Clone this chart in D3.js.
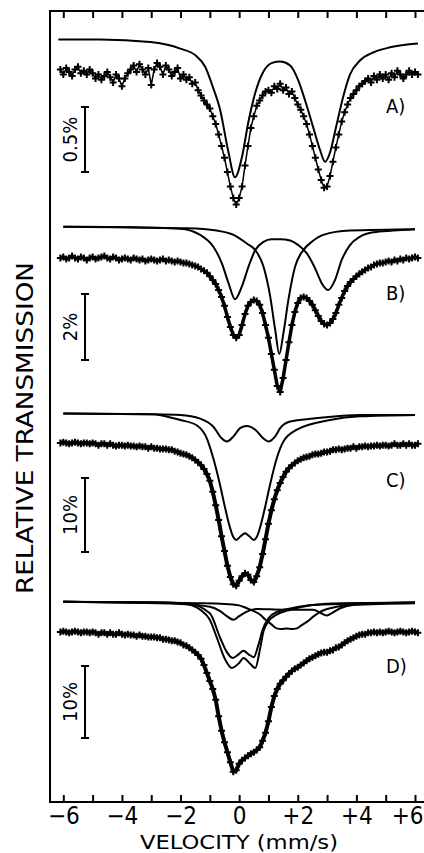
<!DOCTYPE html>
<html lang="en">
<head>
<meta charset="utf-8">
<title>Relative transmission vs velocity</title>
<script src="https://d3js.org/d3.v7.min.js"></script>
<style>
  body { margin: 0; background: #fff; }
  text { font-family: "DejaVu Sans Condensed", "DejaVu Sans", sans-serif; fill: #000; }
</style>
</head>
<body>
<script>
// consts
const w = 424;
const h = 853;

// velocity ticks and labels
const velTicks = [-6, -5, -4, -3, -2, -1, 0, 1, 2, 3, 4, 5, 6];
const panelNames = ["A)", "B)", "C)", "D)"];
const barSizes = [0.5, 2, 10, 10];
const barLabels = ["0.5%", "2%", "10%", "10%"];
const barTops = [99.73, 98.91, 95.27, 95.28];

// measured spectra, relative transmission (%), channels from -6.1 to +6.1 mm/s, step 0.1
const dataA = [
  100.02, 99.98, 100.03, 100.00, 99.97, 100.02, 100.04, 99.99, 100.01, 99.98,
  100.02, 99.99, 99.95, 99.98, 99.94, 99.97, 100.00, 99.96, 99.92, 99.98,
  99.95, 99.89, 99.95, 99.99, 100.02, 100.05, 100.00, 100.06, 100.02, 99.98,
  100.03, 99.90, 100.02, 100.07, 100.04, 99.98, 100.05, 100.02, 99.97, 100.00,
  100.03, 99.95, 99.98, 99.94, 99.96, 99.91, 99.92, 99.86, 99.82, 99.78,
  99.75, 99.72, 99.66, 99.60, 99.52, 99.43, 99.34, 99.23, 99.12, 99.03,
  98.98, 99.03, 99.12, 99.28, 99.43, 99.57, 99.66, 99.74, 99.78, 99.82,
  99.85, 99.86, 99.84, 99.89, 99.87, 99.91, 99.86, 99.88, 99.83, 99.85,
  99.80, 99.75, 99.71, 99.66, 99.60, 99.52, 99.43, 99.34, 99.25, 99.17,
  99.11, 99.12, 99.20, 99.31, 99.42, 99.52, 99.62, 99.69, 99.75, 99.80,
  99.83, 99.86, 99.89, 99.91, 99.93, 99.95, 99.92, 99.97, 99.94, 99.98,
  99.95, 99.98, 99.94, 99.99, 99.96, 100.01, 99.98, 99.95, 99.98, 100.01,
  99.98, 100.00, 99.98
];
const dataB = [
  100.00, 100.03, 99.97, 100.00, 100.06, 100.00, 99.97, 100.03, 100.00, 99.94,
  100.00, 100.03, 99.97, 100.00, 100.03, 100.06, 100.00, 99.97, 100.03, 100.00,
  99.94, 99.97, 100.00, 99.97, 99.94, 100.00, 99.97, 99.94, 99.97, 99.91,
  99.94, 99.97, 99.94, 99.91, 99.94, 99.97, 99.91, 99.94, 99.91, 99.88,
  99.91, 99.88, 99.85, 99.85, 99.82, 99.79, 99.76, 99.73, 99.67, 99.61,
  99.55, 99.45, 99.33, 99.21, 99.03, 98.82, 98.55, 98.21, 97.91, 97.67,
  97.58, 97.67, 97.97, 98.30, 98.55, 98.67, 98.73, 98.70, 98.58, 98.33,
  97.97, 97.58, 97.09, 96.61, 96.12, 95.94, 96.36, 96.91, 97.45, 97.97,
  98.36, 98.64, 98.79, 98.82, 98.79, 98.70, 98.58, 98.42, 98.24, 98.09,
  98.00, 97.97, 98.03, 98.15, 98.33, 98.58, 98.79, 99.00, 99.15, 99.27,
  99.36, 99.45, 99.52, 99.58, 99.64, 99.70, 99.73, 99.79, 99.82, 99.85,
  99.85, 99.88, 99.91, 99.88, 99.94, 99.91, 99.97, 99.94, 100.00, 99.97,
  100.00, 100.03, 100.00
];
const dataC = [
  100.0, 100.1, 100.0, 99.9, 100.0, 100.1, 100.0, 99.9, 100.0, 100.0,
  99.9, 100.0, 99.9, 99.7, 99.9, 99.9, 99.7, 99.9, 99.7, 99.6,
  99.7, 99.7, 99.6, 99.7, 99.6, 99.6, 99.5, 99.6, 99.5, 99.5,
  99.3, 99.5, 99.3, 99.3, 99.2, 99.2, 99.2, 99.1, 99.1, 98.9,
  98.8, 98.6, 98.5, 98.4, 98.2, 98.0, 97.7, 97.4, 97.0, 96.5,
  95.8, 94.9, 93.4, 91.6, 89.6, 87.4, 85.4, 83.4, 81.9, 80.9,
  80.7, 81.4, 82.0, 82.4, 82.2, 81.5, 81.2, 82.0, 83.2, 85.0,
  87.0, 89.1, 90.9, 92.4, 93.6, 94.6, 95.4, 96.1, 96.6, 97.0,
  97.3, 97.6, 97.8, 98.0, 98.1, 98.2, 98.4, 98.5, 98.5, 98.6,
  98.8, 98.8, 98.9, 99.1, 99.1, 99.2, 99.1, 99.2, 99.3, 99.3,
  99.5, 99.3, 99.5, 99.5, 99.6, 99.5, 99.6, 99.6, 99.7, 99.6,
  99.7, 99.7, 99.6, 99.7, 99.9, 99.7, 99.7, 99.9, 99.7, 99.9,
  99.7, 99.7, 99.9
];
const dataD = [
  100.0, 100.1, 100.0, 99.9, 100.0, 100.1, 100.0, 99.9, 100.0, 100.0,
  99.9, 100.0, 99.9, 99.7, 99.9, 99.9, 99.7, 99.9, 99.7, 99.7,
  99.9, 99.7, 99.6, 99.7, 99.6, 99.6, 99.4, 99.6, 99.4, 99.4,
  99.3, 99.3, 99.3, 99.2, 99.2, 99.0, 99.0, 98.9, 98.8, 98.8,
  98.6, 98.5, 98.2, 98.1, 97.8, 97.5, 97.2, 96.8, 96.3, 95.4,
  94.3, 93.2, 92.1, 90.6, 88.3, 86.3, 84.7, 83.3, 81.9, 80.6,
  80.8, 81.7, 82.2, 82.5, 82.8, 83.1, 83.3, 83.6, 84.0, 84.9,
  86.0, 87.6, 89.6, 91.1, 92.1, 92.8, 93.3, 93.8, 94.2, 94.6,
  94.9, 95.1, 95.4, 95.7, 96.0, 96.3, 96.5, 96.7, 96.9, 97.1,
  97.2, 97.2, 97.4, 97.5, 97.8, 97.9, 98.2, 98.5, 98.8, 99.0,
  99.2, 99.4, 99.6, 99.7, 99.7, 99.9, 99.9, 100.0, 99.9, 100.0,
  99.9, 100.0, 100.1, 100.0, 99.9, 100.0, 100.1, 100.0, 99.9, 100.0,
  100.1, 100.0, 99.9
];

// fitted subspectra, [velocity mm/s, relative transmission %], drawn shifted above the data
const fitA = [[-6.17,100.25],[-4.74,100.25],[-3.03,100.23],[-2.01,100.18],[-1.5,100.13],[-1.16,100.04],
  [-0.89,99.88],[-0.65,99.71],[-0.38,99.40],[-0.14,99.19],[0.10,99.35],[0.31,99.61],[0.55,99.84],
  [0.82,100.0],[1.13,100.07],[1.40,100.08],[1.74,100.05],[2.01,99.94],[2.28,99.76],[2.52,99.58],
  [2.76,99.40],[2.93,99.31],[3.10,99.38],[3.31,99.58],[3.55,99.81],[3.78,99.98],[4.13,100.09],
  [4.57,100.15],[5.15,100.19],[6.10,100.22]];
const fitBdoublet = [[-6.0,100.95],[-3.6,100.93],[-2.01,100.89],[-1.33,100.70],[-0.88,100.34],[-0.59,99.84],
  [-0.36,99.23],[-0.14,98.75],[0.09,99.13],[0.32,99.74],[0.55,100.24],[0.83,100.49],[1.11,100.57],
  [1.40,100.57],[1.74,100.53],[2.02,100.39],[2.31,100.14],[2.59,99.69],[2.82,99.23],[3.04,99.03],
  [3.27,99.33],[3.50,99.94],[3.78,100.39],[4.13,100.65],[4.58,100.78],[5.26,100.83],[6.0,100.87]];
const fitBsinglet = [[-6.0,100.95],[-1.78,100.90],[-0.76,100.83],[-0.19,100.70],[0.26,100.44],[0.55,100.24],
  [0.83,99.74],[1.06,98.83],[1.23,97.82],[1.37,97.09],[1.51,97.72],[1.68,98.73],[1.91,99.74],
  [2.19,100.24],[2.48,100.49],[2.87,100.70],[3.78,100.83],[6.0,100.87]];
const fitCsmall = [[-6.0,104.0],[-3.0,103.9],[-2.01,103.8],[-1.33,103.3],[-0.88,102.2],[-0.59,100.6],
  [-0.42,100.2],[-0.19,100.9],[0.03,102.0],[0.26,102.3],[0.55,101.8],[0.83,100.6],[1.0,100.2],
  [1.23,100.9],[1.40,102.0],[1.74,102.9],[2.53,103.3],[4.13,103.8],[6.0,103.8]];
const fitClarge = [[-6.0,104.0],[-3.0,103.9],[-2.0,103.1],[-1.45,102.4],[-1.1,100.6],[-0.88,97.9],
  [-0.65,94.3],[-0.5,91.6],[-0.35,89.1],[-0.2,87.3],[-0.1,86.9],[0.05,87.4],[0.2,87.8],[0.35,87.4],
  [0.5,86.9],[0.6,87.3],[0.75,89.1],[0.9,91.6],[1.05,94.3],[1.28,97.9],[1.51,100.2],[1.97,101.8],
  [3.1,103.1],[4.13,103.6],[6.0,103.8]];
const fitD1 = [[-6.0,104.2],[-2.5,104.1],[-1.8,103.9],[-1.33,103.1],[-1.0,101.7],[-0.76,99.2],[-0.48,96.2],
  [-0.25,95.0],[0.0,95.7],[0.15,96.4],[0.35,95.7],[0.55,95.0],[0.72,97.8],[0.83,100.1],[1.0,101.5],
  [1.28,102.4],[1.74,103.1],[2.5,103.75],[3.5,104.0],[6.0,104.1]];
const fitD2 = [[-6.0,104.2],[-1.8,104.0],[-1.0,102.6],[-0.65,99.2],[-0.42,97.2],[-0.22,96.4],[-0.02,96.9],
  [0.15,97.4],[0.32,96.9],[0.5,96.5],[0.65,98.1],[0.8,100.3],[1.0,101.9],[1.3,102.8],[1.8,103.3],
  [2.5,103.75],[6.0,104.1]];
const fitD3 = [[-6.0,104.2],[-2.0,103.9],[-1.0,103.5],[-0.65,102.9],[-0.42,102.2],[-0.2,101.7],[0.0,102.2],
  [0.3,102.9],[0.6,103.2],[1.5,103.1],[2.53,103.1],[2.8,102.6],[2.98,102.3],[3.15,102.6],[3.45,103.3],
  [3.9,103.75],[6.0,104.0]];
const fitD4 = [[-6.0,104.2],[-1.5,104.0],[-0.5,103.9],[0.0,103.7],[0.26,103.3],[0.5,102.9],[0.72,102.4],
  [0.9,101.7],[1.06,101.2],[1.28,100.5],[1.45,100.4],[1.62,100.5],[1.8,100.4],[1.97,100.5],[2.15,101.0],
  [2.31,101.4],[2.55,102.2],[2.76,102.8],[3.0,103.2],[3.33,103.5],[4.0,103.9],[6.0,104.1]];

// channel velocities
const channels = d3.range(dataA.length).map(i => +(-6.1 + 0.1 * i).toFixed(2));

// layout of the four stacked panels: pixel of 100 % and pixels per 1 %
// (A is a noisy scatter, the others a dense band of points)
const panels = [
  {data: dataA, fits: [fitA], base: 72, ppp: 130, labelY: 113, band: 1.5},
  {data: dataB, fits: [fitBdoublet, fitBsinglet], base: 258, ppp: 33, labelY: 300, band: 3.5},
  {data: dataC, fits: [fitCsmall, fitClarge], base: 443, ppp: 7.4, labelY: 487, band: 4},
  {data: dataD, fits: [fitD1, fitD2, fitD3, fitD4], base: 632, ppp: 7.2, labelY: 673, band: 4}
];

const xScale = d3.scaleLinear().domain([-6, 6]).range([63.3, 415]);
const frameLeft = 50, frameTop = 11, frameBottom = 802;

const svg = d3.select("body").append("svg")
  .attr("width", w)
  .attr("height", h);

// frame
svg.append("path")
  .attr("d", `M${w + 4},${frameTop}H${frameLeft}V${frameBottom}H${w + 4}`)
  .attr("fill", "none")
  .attr("stroke", "#000")
  .attr("stroke-width", 2);

// top axis, ticks only
const topAxis = d3.axisTop(xScale)
  .tickValues(velTicks)
  .tickSizeInner(-7)
  .tickSizeOuter(0)
  .tickFormat("");
const gTop = svg.append("g")
  .attr("transform", `translate(0,${frameTop})`)
  .call(topAxis);

// bottom axis
const fmt = d => d % 2 !== 0 ? "" : d > 0 ? "+" + d : d < 0 ? "\u2212" + Math.abs(d) : "0";
const bottomAxis = d3.axisBottom(xScale)
  .tickValues(velTicks)
  .tickSizeInner(-7)
  .tickSizeOuter(0)
  .tickPadding(5)
  .tickFormat(fmt);
const gBottom = svg.append("g")
  .attr("transform", `translate(0,${frameBottom})`)
  .call(bottomAxis);

[gTop, gBottom].forEach(g => {
  g.select(".domain").remove();
  g.selectAll(".tick line").attr("stroke-width", 2);
  g.selectAll(".tick text")
    .attr("font-size", 24)
    .attr("font-family", '"DejaVu Sans Condensed", "DejaVu Sans", sans-serif');
});
// keep the last label inside the page
gBottom.selectAll(".tick text").filter(d => d === 6)
  .attr("text-anchor", "end")
  .attr("x", w - 415 - 1);

// axis titles
svg.append("text")
  .attr("x", 239)
  .attr("y", 849)
  .attr("text-anchor", "middle")
  .attr("font-size", 20)
  .attr("textLength", 198)
  .attr("lengthAdjust", "spacingAndGlyphs")
  .text("VELOCITY (mm/s)");

svg.append("text")
  .attr("transform", "translate(33,428) rotate(-90)")
  .attr("text-anchor", "middle")
  .attr("font-size", 23)
  .attr("textLength", 332)
  .attr("lengthAdjust", "spacingAndGlyphs")
  .text("RELATIVE TRANSMISSION");

const line = yScale => d3.line()
  .x(d => xScale(d[0]))
  .y(d => yScale(d[1]))
  .curve(d3.curveMonotoneX);

panels.forEach((p, k) => {
  const yScale = d3.scaleLinear()
    .domain([100, 99])
    .range([p.base, p.base + p.ppp]);

  const g = svg.append("g").attr("class", "panel");

  // fitted subspectra
  g.selectAll("path.fit")
    .data(p.fits)
    .enter()
    .append("path")
    .attr("class", "fit")
    .attr("d", line(yScale))
    .attr("fill", "none")
    .attr("stroke", "#000")
    .attr("stroke-width", 2);

  // dense channels merge into a band
  g.append("path")
    .datum(p.data.map((d, i) => [channels[i], d]))
    .attr("d", d3.line().x(d => xScale(d[0])).y(d => yScale(d[1])))
    .attr("fill", "none")
    .attr("stroke", "#000")
    .attr("stroke-width", p.band)
    .attr("stroke-linejoin", "round");

  // data points as crosses
  g.selectAll("path.pt")
    .data(p.data)
    .enter()
    .append("path")
    .attr("class", "pt")
    .attr("transform", (d, i) => `translate(${xScale(channels[i])},${yScale(d)})`)
    .attr("d", "M-3.5,0H3.5M0,-3.5V3.5")
    .attr("stroke", "#000")
    .attr("stroke-width", 2);

  // scale bar
  const y0 = yScale(barTops[k]);
  const y1 = yScale(barTops[k] - barSizes[k]);
  g.append("path")
    .attr("d", `M81,${y0}H89M85,${y0}V${y1}M81,${y1}H89`)
    .attr("fill", "none")
    .attr("stroke", "#000")
    .attr("stroke-width", 2);

  g.append("text")
    .attr("transform", `translate(77,${(y0 + y1) / 2}) rotate(-90)`)
    .attr("text-anchor", "middle")
    .attr("font-size", 20)
    .text(barLabels[k]);

  // panel letter
  g.append("text")
    .attr("x", 386)
    .attr("y", p.labelY)
    .attr("font-size", 20)
    .text(panelNames[k]);
});
</script>
</body>
</html>
